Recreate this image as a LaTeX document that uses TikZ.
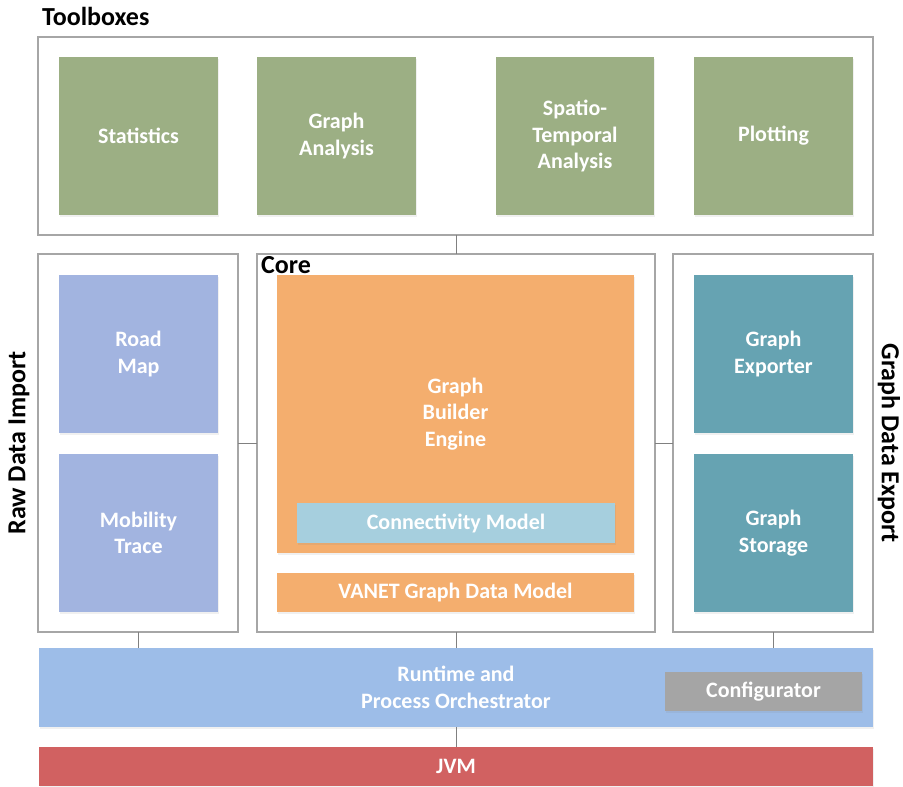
\documentclass[tikz,border=0pt]{standalone}
\usepackage{fontspec}
\setmainfont{Carlito}
\usetikzlibrary{shadows}
\definecolor{cgreen}{HTML}{9CAF84}
\definecolor{clav}{HTML}{A2B4E0}
\definecolor{corange}{HTML}{F4AE6E}
\definecolor{cconn}{HTML}{A6CFDE}
\definecolor{cteal}{HTML}{66A3B2}
\definecolor{crun}{HTML}{9DBDE8}
\definecolor{cconf}{HTML}{A5A5A5}
\definecolor{cjvm}{HTML}{D16161}
\definecolor{cframe}{HTML}{A6A6A6}
\definecolor{cline}{HTML}{808080}
\tikzset{
  blk/.style={rectangle, inner sep=0pt, outer sep=0pt, text=white, align=center,
    font=\fontsize{22}{26.5}\selectfont\bfseries,
    drop shadow={opacity=0.12, shadow xshift=1pt, shadow yshift=-2pt}},
  frm/.style={rectangle, draw=cframe, line width=2.5pt, inner sep=0pt, outer sep=0pt},
  lbl/.style={inner sep=0pt, text=black, font=\fontsize{26}{30}\selectfont\bfseries},
  conn/.style={draw=cline, line width=0.9pt}
}
\begin{document}
\begin{tikzpicture}[x=1pt,y=-1pt]
\useasboundingbox (0,0) rectangle (903,787);
% frames
\node[frm, minimum width=835, minimum height=198] (tb) at (455.5,136) {};
\node[frm, minimum width=200, minimum height=378] (raw) at (138,443) {};
\node[frm, minimum width=398, minimum height=378] (core) at (456,443) {};
\node[frm, minimum width=200, minimum height=378] (exp) at (773,443) {};
% connectors
\draw[conn] (core.north) -- (core.north |- tb.south);
\draw[conn] (raw.east) -- (core.west);
\draw[conn] (core.east) -- (exp.west);
% bottom bars
\node[blk, fill=crun, minimum width=834, minimum height=79] (rt) at (456,687.5) {Runtime and\\Process Orchestrator};
\node[blk, fill=cjvm, minimum width=834, minimum height=39] (jvm) at (456,766.5) {JVM};
\node[blk, fill=cconf, minimum width=197, minimum height=39] (conf) at (763.5,691.5) {Configurator};
\draw[conn] (raw.south) -- (raw.south |- rt.north);
\draw[conn] (core.south) -- (core.south |- rt.north);
\draw[conn] (exp.south) -- (exp.south |- rt.north);
\draw[conn] (rt.south) -- (jvm.north);
% toolboxes
\node[blk, fill=cgreen, minimum width=159, minimum height=158] (stat) at (138.5,136) {Statistics};
\node[blk, fill=cgreen, minimum width=159, minimum height=158] (ga) at (336.5,136) {Graph\\Analysis};
\node[blk, fill=cgreen, minimum width=158, minimum height=158] (sta) at (575,136) {Spatio-\\Temporal\\Analysis};
\node[blk, fill=cgreen, minimum width=159, minimum height=158] (plot) at (773.5,136) {Plotting};
% raw data import
\node[blk, fill=clav, minimum width=159, minimum height=158] (road) at (138.5,354) {Road\\Map};
\node[blk, fill=clav, minimum width=159, minimum height=158] (mob) at (138.5,533) {Mobility\\Trace};
% core
\node[blk, fill=corange, minimum width=357, minimum height=278] (gbe) at (455.5,414) {Graph\\Builder\\Engine};
\node[blk, fill=cconn, minimum width=318, minimum height=40, drop shadow={opacity=0}] (cm) at (456,523) {Connectivity Model};
\node[blk, fill=corange, minimum width=357, minimum height=39] (vanet) at (455.5,592.5) {VANET Graph Data Model};
% export
\node[blk, fill=cteal, minimum width=159, minimum height=158] (gex) at (773.5,354) {Graph\\Exporter};
\node[blk, fill=cteal, minimum width=159, minimum height=158] (gst) at (773.5,533) {Graph\\Storage};
% labels
\node[lbl, anchor=base west] (ltb) at (42,25) {Toolboxes};
\node[lbl, anchor=base west] (lcore) at (261,273) {Core};
\node[lbl, rotate=90] (lraw) at (19,443) {Raw Data Import};
\node[lbl, rotate=-90] (lexp) at (889,443) {Graph Data Export};
\end{tikzpicture}
\end{document}
